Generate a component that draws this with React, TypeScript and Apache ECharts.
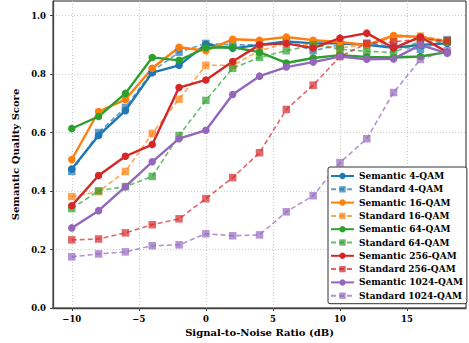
import React, { useEffect, useRef } from "react";
import * as echarts from "echarts";

const snr = [-10, -8, -6, -4, -2, 0, 2, 4, 6, 8, 10, 12, 14, 16, 18];

const sem4 = [0.475, 0.59, 0.675, 0.805, 0.83, 0.902, 0.888, 0.9, 0.912, 0.905, 0.905, 0.9, 0.89, 0.9, 0.905];
const std4 = [0.467, 0.6, 0.686, 0.81, 0.875, 0.905, 0.9, 0.9, 0.912, 0.88, 0.9, 0.905, 0.895, 0.885, 0.918];
const sem16 = [0.508, 0.672, 0.713, 0.82, 0.892, 0.88, 0.919, 0.916, 0.927, 0.916, 0.91, 0.9, 0.932, 0.927, 0.91];
const std16 = [0.381, 0.398, 0.467, 0.597, 0.714, 0.83, 0.83, 0.88, 0.905, 0.9, 0.89, 0.9, 0.925, 0.93, 0.915];
const sem64 = [0.614, 0.655, 0.734, 0.857, 0.847, 0.89, 0.892, 0.875, 0.838, 0.855, 0.865, 0.859, 0.857, 0.86, 0.875];
const std64 = [0.34, 0.401, 0.415, 0.45, 0.59, 0.71, 0.82, 0.857, 0.88, 0.9, 0.885, 0.878, 0.874, 0.913, 0.91];
const sem256 = [0.35, 0.453, 0.519, 0.559, 0.754, 0.78, 0.843, 0.9, 0.905, 0.889, 0.923, 0.94, 0.889, 0.927, 0.875];
const std256 = [0.233, 0.236, 0.257, 0.285, 0.305, 0.374, 0.446, 0.531, 0.679, 0.762, 0.86, 0.905, 0.91, 0.92, 0.914];
const sem1024 = [0.274, 0.333, 0.415, 0.5, 0.579, 0.608, 0.73, 0.793, 0.824, 0.841, 0.86, 0.851, 0.852, 0.9, 0.871];
const std1024 = [0.175, 0.185, 0.192, 0.213, 0.216, 0.254, 0.247, 0.25, 0.329, 0.384, 0.497, 0.579, 0.737, 0.85, 0.88];

const xTicks = [-10, -5, 0, 5, 10, 15];
const yTicks = [0, 0.2, 0.4, 0.6, 0.8, 1.0];

const seriesDefs = [
  { name: "Semantic 4-QAM", data: sem4, color: "#1f77b4", std: false },
  { name: "Standard 4-QAM", data: std4, color: "#1f77b4", std: true },
  { name: "Semantic 16-QAM", data: sem16, color: "#ff7f0e", std: false },
  { name: "Standard 16-QAM", data: std16, color: "#ff7f0e", std: true },
  { name: "Semantic 64-QAM", data: sem64, color: "#2ca02c", std: false },
  { name: "Standard 64-QAM", data: std64, color: "#2ca02c", std: true },
  { name: "Semantic 256-QAM", data: sem256, color: "#d62728", std: false },
  { name: "Standard 256-QAM", data: std256, color: "#d62728", std: true },
  { name: "Semantic 1024-QAM", data: sem1024, color: "#9467bd", std: false },
  { name: "Standard 1024-QAM", data: std1024, color: "#9467bd", std: true },
];

const FONT = "DejaVu Serif";
const AXIS_COLOR = "#444";

export default function App() {
  const ref = useRef<HTMLDivElement>(null);
  useEffect(() => {
    if (!ref.current) return;
    const chart = echarts.init(ref.current, null, { renderer: "svg" });
    const series = seriesDefs.map((s) => ({
      name: s.name,
      type: "line",
      data: snr.map((x, i) => [x, s.data[i]]),
      symbol: s.std ? "rect" : "circle",
      symbolSize: 7.5,
      showSymbol: true,
      lineStyle: {
        color: s.color,
        width: s.std ? 1.6 : 2.4,
        type: s.std ? [5, 3] : "solid",
        opacity: s.std ? 0.7 : 1,
      },
      itemStyle: { color: s.color, opacity: s.std ? 0.7 : 1 },
      emphasis: { disabled: true },
    }));
    chart.setOption({
      animation: false,
      textStyle: { fontFamily: FONT },
      grid: {
        left: 53,
        right: 3,
        top: 1,
        bottom: 35,
        show: true,
        borderColor: "#222",
        borderWidth: 1,
      },
      xAxis: {
        type: "value",
        min: -11.4,
        max: 19.4,
        name: "Signal-to-Noise Ratio (dB)",
        nameLocation: "middle",
        nameGap: 16,
        nameTextStyle: { fontFamily: FONT, fontWeight: "bold", fontSize: 10, color: "#000" },
        axisLine: { show: true, onZero: false, lineStyle: { color: AXIS_COLOR, width: 1.3 } },
        axisTick: { show: true, length: 3, inside: false, customValues: xTicks, lineStyle: { color: AXIS_COLOR } },
        axisLabel: {
          customValues: xTicks,
          margin: 6,
          fontFamily: FONT,
          fontWeight: "bold",
          fontSize: 8.5,
          color: "#000",
          formatter: (v: number) => (v < 0 ? "\u2212" + Math.abs(v) : String(v)),
        },
        splitLine: { show: true, lineStyle: { color: "#ccc", type: [1, 2], width: 1 } },
      },
      yAxis: {
        type: "value",
        min: 0,
        max: 1.05,
        name: "Semantic Quality Score",
        nameLocation: "middle",
        nameGap: 26,
        nameTextStyle: { fontFamily: FONT, fontWeight: "bold", fontSize: 10, color: "#000" },
        axisLine: { show: true, onZero: false, lineStyle: { color: AXIS_COLOR, width: 1.3 } },
        axisTick: { show: true, length: 3, customValues: yTicks, lineStyle: { color: AXIS_COLOR } },
        axisLabel: {
          customValues: yTicks,
          margin: 7,
          fontFamily: FONT,
          fontWeight: "bold",
          fontSize: 8.5,
          color: "#000",
          formatter: (v: number) => v.toFixed(1),
        },
        splitLine: { show: true, lineStyle: { color: "#ccc", type: [1, 2], width: 1 } },
      },
      legend: {
        orient: "vertical",
        left: 328,
        top: 167,
        padding: [4, 4, 3, 2],
        itemWidth: 23,
        itemHeight: 8,
        itemGap: 3.3,
        backgroundColor: "#fff",
        borderColor: "#333",
        borderWidth: 1,
        borderRadius: 2,
        textStyle: { fontFamily: FONT, fontWeight: "bold", fontSize: 9, color: "#000", lineHeight: 10 },
        data: seriesDefs.map((s) => s.name),
      },
      series,
    });
    return () => chart.dispose();
  }, []);
  return (
    <div
      ref={ref}
      style={{ position: "fixed", left: 0, top: 0, width: 469, height: 343, background: "#fff" }}
    />
  );
}
